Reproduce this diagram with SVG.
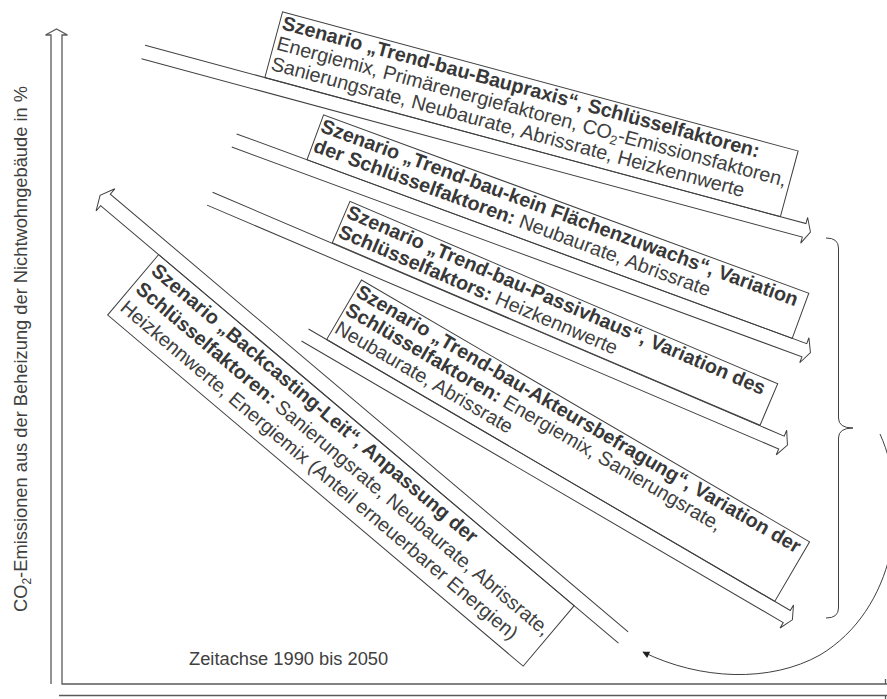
<svg xmlns="http://www.w3.org/2000/svg" width="887" height="699" viewBox="0 0 887 699">
<style>
.ln{fill:none;stroke:#404040;stroke-width:1}
.ax{fill:none;stroke:#5a5a5a;stroke-width:1.3}
.bx{fill:none;stroke:#404040;stroke-width:1}
.t{font-family:"Liberation Sans",Arial,sans-serif;font-size:19.8px;fill:#404040}
.b{font-weight:bold;fill:#383838}
.lab{font-family:"Liberation Sans",Arial,sans-serif;font-size:18.3px;fill:#404040}
</style>
<defs>
<marker id="ah" viewBox="0 0 10 10" refX="9" refY="5" markerWidth="9" markerHeight="7" markerUnits="userSpaceOnUse" orient="auto">
<path d="M0,0 L10,5 L0,10 Z" fill="#202020"/>
</marker>
</defs>
<rect width="887" height="699" fill="#fff"/>
<g id="axes">
<path class="ax" d="M51,684 L51,35 L45.5,35 L56.5,29 L67.5,35 L62,35 L62,684 L887,684"/>
<path class="ax" d="M59,695.5 L887,695.5 M885.5,684 L885.5,679 M885.5,695.5 L885.5,699"/>
<text class="lab" transform="translate(27,349) rotate(-90)" text-anchor="middle">CO<tspan font-size="12" dy="4">2</tspan><tspan dy="-4">-Emissionen aus der Beheizung der Nichtwohngebäude in %</tspan></text>
<text class="lab" x="189" y="665" font-size="18.5">Zeitachse 1990 bis 2050</text>
</g>
<g id="connectors">
<path class="ln" d="M826,238 Q838.5,238 838.5,248 L838.5,418 Q838.5,428 853,428 Q838.5,428 838.5,438 L838.5,608 Q838.5,618 826,618" stroke-width="1.3"/>
<path class="ln" d="M880,434 C912,505 895,610 820,655 C770,683 700,680 643,652" marker-end="url(#ah)"/>
</g>
<g id="scenario-baupraxis" transform="translate(143.3,52) rotate(15.1)">
<path class="ln" d="M0,-7 L684.5,-7 L684.5,-13.3 L691,0 L684.5,13.3 L684.5,7 L0,7"/>
<rect class="bx" x="124" y="-75" width="534" height="68"/>
<text class="t b" x="127" y="-58" font-size="20.3">Szenario „Trend-bau-Baupraxis“, Schlüsselfaktoren:</text>
<text class="t" x="127" y="-37" font-size="20">Energiemix, Primärenergiefaktoren, CO<tspan font-size="13" dy="4">2</tspan><tspan dy="-4">-Emissionsfaktoren,</tspan></text>
<text class="t" x="127" y="-16" font-size="20.3">Sanierungsrate, Neubaurate, Abrissrate, Heizkennwerte</text>
</g>
<g id="scenario-flaechenzuwachs" transform="translate(234.2,140.5) rotate(20.2)">
<path class="ln" d="M0,-7 L607.5,-7 L607.5,-13.3 L614,0 L607.5,13.3 L607.5,7 L0,7"/>
<rect class="bx" x="75" y="-55" width="517" height="48"/>
<text class="t b" x="77" y="-38">Szenario „Trend-bau-kein Flächenzuwachs“, Variation</text>
<text class="t" x="77" y="-17"><tspan class="b">der Schlüsselfaktoren:</tspan> Neubaurate, Abrissrate</text>
</g>
<g id="scenario-passivhaus" transform="translate(209.8,198.7) rotate(23.1)">
<path class="ln" d="M0,-7 L621.5,-7 L621.5,-13.3 L628,0 L621.5,13.3 L621.5,7 L0,7"/>
<rect class="bx" x="130" y="-52.5" width="465" height="45"/>
<text class="t b" x="132" y="-36">Szenario „Trend-bau-Passivhaus“, Variation des</text>
<text class="t" x="132" y="-15"><tspan class="b">Schlüsselfaktors:</tspan> Heizkennwerte</text>
</g>
<g id="scenario-akteursbefragung" transform="translate(305,335) rotate(30.3)">
<path class="ln" d="M0,-7 L558,-7 L558,-13.3 L564.5,0 L558,13.3 L558,7 L0,7"/>
<rect class="bx" x="21" y="-76" width="519" height="69"/>
<text class="t b" x="23" y="-59">Szenario „Trend-bau-Akteursbefragung“, Variation der</text>
<text class="t" x="23" y="-38"><tspan class="b">Schlüsselfaktoren:</tspan> Energiemix, Sanierungsrate,</text>
<text class="t" x="23" y="-17">Neubaurate, Abrissrate</text>
</g>
<g id="scenario-backcasting" transform="translate(623.3,637.5) rotate(40.2)">
<path class="ln" d="M0,-7.5 L-678,-7.5 L-678,-14.5 L-685,0 L-678,14.5 L-678,7.5 L0,7.5"/>
<rect class="bx" x="-602" y="7.5" width="544" height="79"/>
<text class="t b" x="-597" y="27">Szenario „Backcasting-Leit“, Anpassung der</text>
<text class="t" x="-597" y="51"><tspan class="b">Schlüsselfaktoren:</tspan> Sanierungsrate, Neubaurate, Abrissrate,</text>
<text class="t" x="-597" y="75">Heizkennwerte, Energiemix (Anteil erneuerbarer Energien)</text>
</g>
</svg>
